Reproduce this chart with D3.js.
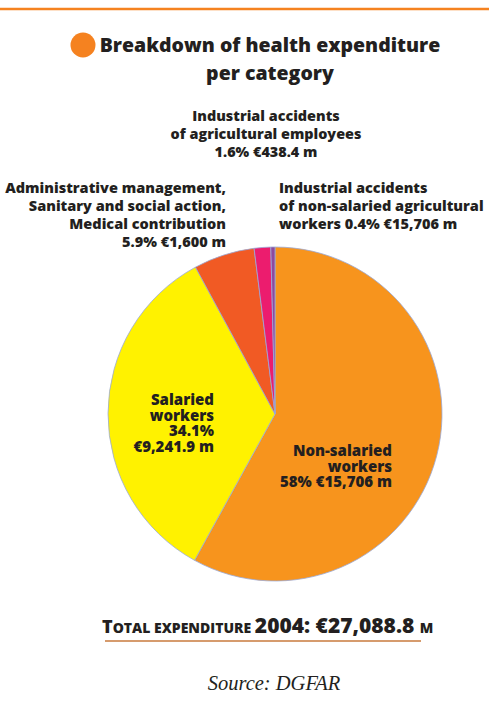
<!DOCTYPE html>
<html>
<head>
<meta charset="utf-8">
<script src="https://cdn.jsdelivr.net/npm/d3@7"></script>
<style>
  html, body { margin: 0; padding: 0; background: #fff; }
  svg { display: block; }
  text { font-family: "Open Sans", "Noto Sans", sans-serif; fill: #231F20; }
</style>
</head>
<body>
<svg id="chart" width="489" height="713"></svg>
<script>
// Health expenditure breakdown, 2004
const categories = [
  "Non-salaried workers",
  "Salaried workers",
  "Administrative management, Sanitary and social action, Medical contribution",
  "Industrial accidents of agricultural employees",
  "Industrial accidents of non-salaried agricultural workers"
];
const shares = [58, 34.1, 5.9, 1.6, 0.4];
const amounts = ["€15,706 m", "€9,241.9 m", "€1,600 m", "€438.4 m", "€15,706 m"];
const colors = ["#F7941D", "#FFF200", "#F15A24", "#EC1C6E", "#8E4A9E"];

const svg = d3.select("#chart");
const W = 489;

// top rule
svg.append("line").attr("x1", 0).attr("x2", W).attr("y1", 9).attr("y2", 9)
  .attr("stroke", "#F58220").attr("stroke-width", 2.5);

// title
svg.append("circle").attr("cx", 83).attr("cy", 45).attr("r", 12.5).attr("fill", "#F58220");
const title = svg.append("text").attr("text-anchor", "middle")
  .style("font-size", "19.5px").style("font-weight", "800");
title.append("tspan").attr("x", 270).attr("y", 52).text("Breakdown of health expenditure");
title.append("tspan").attr("x", 270).attr("y", 80).text("per category");

// pie
const cx = 275, cy = 414, R = 167;
const pie = d3.pie().sort(null).value(d => d);
const arc = d3.arc().innerRadius(0).outerRadius(R);
const g = svg.append("g").attr("transform", `translate(${cx},${cy})`);
g.selectAll("path").data(pie(shares)).join("path")
  .attr("d", arc)
  .attr("fill", (d, i) => colors[i])
  .attr("stroke", "#9AA9D8").attr("stroke-width", 0.8);

// labels, one text element per line
function label(x, y, anchor, lines, lh, size) {
  lines.forEach((s, i) => svg.append("text")
    .attr("x", x).attr("y", y + i * lh).attr("text-anchor", anchor)
    .style("font-size", size + "px").style("font-weight", "800").text(s));
}
label(266, 121, "middle", ["Industrial accidents", "of agricultural employees", shares[3] + "% " + amounts[3]], 18, 14.4);
label(226, 193, "end", ["Administrative management,", "Sanitary and social action,", "Medical contribution", shares[2] + "% " + amounts[2]], 18, 14.5);
label(279, 193, "start", ["Industrial accidents", "of non-salaried agricultural", "workers " + shares[4] + "% " + amounts[4]], 18, 14.5);
label(214, 405, "end", ["Salaried", "workers", shares[1] + "%", amounts[1]], 15.7, 15);
label(392, 456, "end", ["Non-salaried", "workers", shares[0] + "% " + amounts[0]], 15.7, 15);

// total
const total = svg.append("text").attr("x", 102).attr("y", 633).style("font-weight", "800");
total.append("tspan").style("font-size", "18px").text("T");
total.append("tspan").style("font-size", "14px").text("OTAL EXPENDITURE ");
total.append("tspan").style("font-size", "21px").text("2004: €27,088.8 ");
total.append("tspan").style("font-size", "14px").text("M");
svg.append("line").attr("x1", 105).attr("x2", 421).attr("y1", 641).attr("y2", 641)
  .attr("stroke", "#C97A3D").attr("stroke-width", 1.5);

// source
svg.append("text").attr("x", 274).attr("y", 690).attr("text-anchor", "middle")
  .style("font-family", "'Liberation Serif', 'DejaVu Serif', serif")
  .style("font-style", "italic").style("font-size", "20.5px").text("Source: DGFAR");
</script>
</body>
</html>
